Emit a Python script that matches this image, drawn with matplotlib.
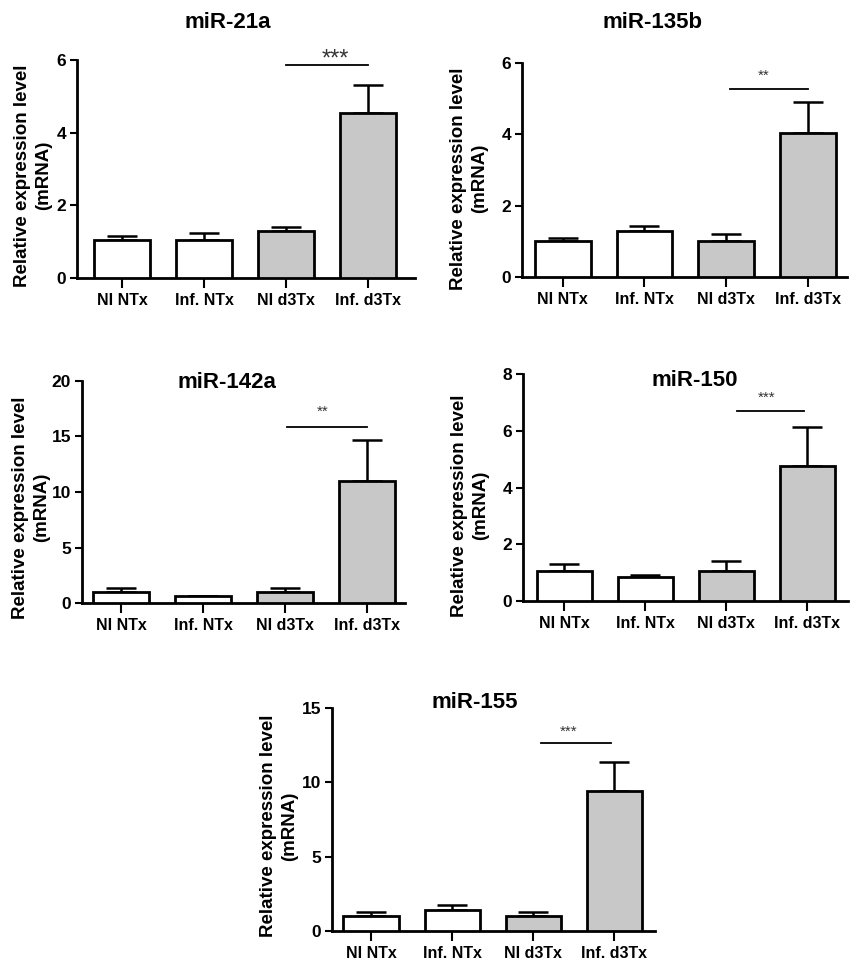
import matplotlib
matplotlib.use("Agg")
import matplotlib.pyplot as plt

plt.rcParams["font.family"] = ["Liberation Sans", "DejaVu Sans"]
plt.rcParams["font.weight"] = "bold"

GROUPS = ["NI NTx", "Inf. NTx", "NI d3Tx", "Inf. d3Tx"]
FILLS = ["white", "white", "#c8c8c8", "#c8c8c8"]

TITLES = ["miR-21a", "miR-135b", "miR-142a", "miR-150", "miR-155"]

mir21a_mean = [1.05, 1.05, 1.30, 4.55]
mir21a_sem = [0.10, 0.20, 0.10, 0.75]
mir135b_mean = [1.00, 1.30, 1.00, 4.05]
mir135b_sem = [0.10, 0.12, 0.20, 0.87]
mir142a_mean = [1.00, 0.65, 1.00, 11.0]
mir142a_sem = [0.35, 0.00, 0.35, 3.70]
mir150_mean = [1.05, 0.85, 1.05, 4.75]
mir150_sem = [0.25, 0.05, 0.37, 1.37]
mir155_mean = [1.00, 1.40, 1.00, 9.40]
mir155_sem = [0.25, 0.35, 0.25, 2.00]

MEANS = [mir21a_mean, mir135b_mean, mir142a_mean, mir150_mean, mir155_mean]
SEMS = [mir21a_sem, mir135b_sem, mir142a_sem, mir150_sem, mir155_sem]

YTICKS = [[0, 2, 4, 6], [0, 2, 4, 6], [0, 5, 10, 15, 20], [0, 2, 4, 6, 8], [0, 5, 10, 15]]

# significance bar: (x0, x1, y), star text, star (x, y)
SIG_LINES = [(2.0, 3.0, 5.86), (2.05, 3.0, 5.27), (2.02, 3.0, 15.9), (2.13, 2.96, 6.7), (2.1, 2.96, 12.65)]
SIG_STARS = ["***", "**", "**", "***", "***"]
STAR_POS = [(2.6, 6.0), (2.46, 5.65), (2.46, 17.2), (2.5, 7.15), (2.43, 13.4)]

W, H = 851, 972
# axes boxes in pixels: left, top, right, bottom
BOXES = [(77, 60, 415, 278), (522, 63, 847, 277), (82, 381, 405, 603),
         (523, 374, 848, 601), (332, 708, 655, 931)]
XLIMS = [(-0.55, 3.57), (-0.5, 3.48), (-0.48, 3.46), (-0.51, 3.5), (-0.48, 3.5)]
TITLE_XY = [(228, 23), (653, 23), (227, 382), (695, 380), (475, 702)]
YLAB_POS = [(-0.13, 0.47), (-0.163, 0.46), (-0.158, 0.43), (-0.163, 0.42), (-0.164, 0.47)]
STAR_SIZE = [17, 11, 11, 11, 11]

fig = plt.figure(figsize=(W / 100, H / 100), dpi=100)

for i in range(5):
    l, t, r, b = BOXES[i]
    ax = fig.add_axes([l / W, 1 - b / H, (r - l) / W, (b - t) / H])
    x = range(len(GROUPS))
    ax.bar(x, MEANS[i], width=0.68, color=FILLS, edgecolor="black", linewidth=2, zorder=3)
    ax.errorbar(x, MEANS[i], yerr=[[0] * 4, SEMS[i]], fmt="none", ecolor="black",
                elinewidth=1.8, capsize=11, capthick=1.8, zorder=2)
    ax.set_xlim(*XLIMS[i])
    ax.set_ylim(0, YTICKS[i][-1])
    ax.set_yticks(YTICKS[i])
    ax.set_xticks(list(x))
    ax.set_xticklabels(GROUPS, fontsize=11.5, fontweight="bold")
    ax.tick_params(axis="y", labelsize=12.5, width=1.5, length=5, pad=3)
    ax.tick_params(axis="x", width=1.5, length=7, pad=4)
    for s in ["top", "right"]:
        ax.spines[s].set_visible(False)
    for s in ["left", "bottom"]:
        ax.spines[s].set_linewidth(2)
    ax.text(*YLAB_POS[i], "Relative expression level\n(mRNA)", transform=ax.transAxes,
            rotation=90, ha="center", va="center", fontsize=13.5, fontweight="bold",
            multialignment="center", linespacing=1.3)
    x0, x1, ys = SIG_LINES[i]
    ax.plot([x0, x1], [ys, ys], color="black", lw=1.3, clip_on=False)
    sx, sy = STAR_POS[i]
    ax.text(sx, sy, SIG_STARS[i], ha="center", va="center", fontsize=STAR_SIZE[i],
            color="#333333", fontweight="normal", clip_on=False)
    tx, ty = TITLE_XY[i]
    fig.text(tx / W, 1 - ty / H, TITLES[i], ha="center", va="center", fontsize=16,
             fontweight="bold")

fig.savefig("out.png", dpi=100, facecolor="white")
